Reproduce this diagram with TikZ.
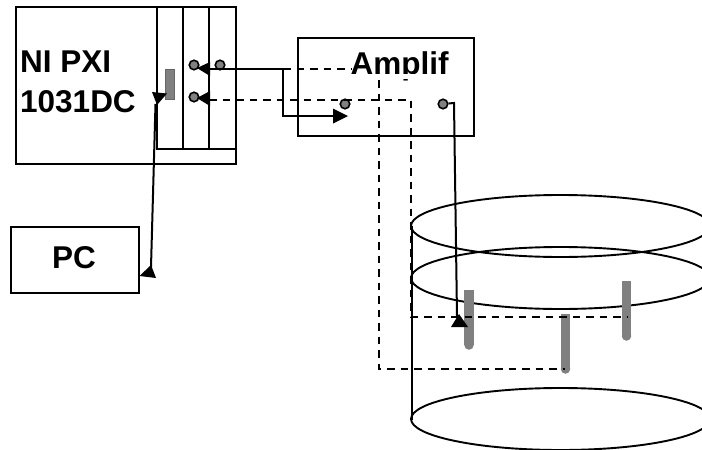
\documentclass[tikz,border=0pt]{standalone}
\usepackage{fontspec}
\setmainfont{Liberation Sans}
\tikzset{
  box/.style={draw=black,line width=2pt,inner sep=0pt,anchor=north west},
  lab/.style={inner sep=0pt,anchor=base west,font=\fontsize{31.5}{31.5}\selectfont\bfseries},
  port/.style={circle,draw=black,fill=gray,line width=1.6pt,minimum size=9.5pt,inner sep=0pt},
  solidw/.style={draw=black,line width=2pt},
  dashw/.style={draw=black,line width=1.8pt,dash pattern=on 7.5pt off 6pt},
  head/.style={fill=black,draw=none},
  probe/.style={draw=gray,line width=9.5pt,line cap=butt},
  tank/.style={draw=black,line width=1.9pt},
}
\begin{document}
\begin{tikzpicture}[x=1pt,y=-1pt]
\useasboundingbox (0,0) rectangle (702,450);
\clip (0,0) rectangle (702,450);
% cylinder
\draw[tank] (560.5,226) ellipse [x radius=149.5,y radius=31];
\draw[tank] (560.5,278) ellipse [x radius=149.5,y radius=31];
\draw[tank] (560.5,419) ellipse [x radius=149.5,y radius=31];
\draw[tank] (412,226) -- (412,420);
% probes
\coordinate (p1t) at (469,290); \coordinate (p1b) at (469,345);
\coordinate (p2t) at (565.5,314); \coordinate (p2b) at (565.5,369);
\coordinate (p3t) at (626.5,281); \coordinate (p3b) at (626.5,336);
\foreach \a/\b in {p1t/p1b,p2t/p2b,p3t/p3b}{
  \draw[probe] (\a) -- (\b);
  \fill[gray] (\b) circle (4.75pt);
}
% instrument
\node[box,minimum width=220pt,minimum height=157pt] (ni) at (15,6) {};
\node[box,minimum width=79pt,minimum height=142pt] (rack) at (156,6) {};
\draw[solidw] (182.5,6) -- (182.5,148);
\draw[solidw] (209,6) -- (209,148);
\node[draw=gray!80!black,fill=gray,line width=1pt,minimum width=9pt,minimum height=30pt,inner sep=0pt,anchor=north west] (slot) at (165,69) {};
\node[lab] (nilabel) at (20,72) {NI PXI};
\node[lab] (nilabelb) at (20,112) {1031DC};
% PC
\node[box,minimum width=128pt,minimum height=66pt] (pc) at (10,226) {};
\node[lab,anchor=base] (pclabel) at (74,268) {PC};
% amplifier
\node[box,minimum width=176pt,minimum height=98pt] (amp) at (297,37) {};
% ports
\node[port] (a) at (194,65) {};
\node[port] (b) at (220,65) {};
\node[port] (c) at (194,97) {};
\node[port] (d) at (345,104) {};
\node[port] (e) at (443,104) {};
% routing points
\coordinate (w1) at (209,69);
\coordinate (w2) at (283,69);
\coordinate (w3) at (283,116);
\coordinate (w4) at (335,116);
\coordinate (d1) at (352,69);
\coordinate (d2) at (379,80);
\coordinate (d3) at (379,369);
\coordinate (d4) at (565,369);
\coordinate (f1) at (209,100);
\coordinate (f2) at (411,100);
\coordinate (f3) at (411,317);
\coordinate (f4) at (627,317);
\coordinate (g1) at (454,103);
\coordinate (g2) at (457,316);
\coordinate (h1) at (155.5,104);
\coordinate (h2) at (151,267);
% solid connectors
\draw[solidw] (w1) -- (w2) -- (w3) -- (w4);
\draw[solidw] (e) -- (g1) -- (g2);
\draw[solidw] (h1) -- (h2);
% dashed connectors
\draw[dashw] (w2) -- (d1);
\draw[dashw] (f1) -- (f2) -- (f3) -- (f4);
\draw[dashw] (d2) -- (d3) -- (d4);
% arrowheads
\fill[head] (197,68) -- (210,62) -- (210,76) -- cycle;
\fill[head] (197,98) -- (210,91) -- (210,106) -- cycle;
\fill[head] (348,116) -- (333,108.5) -- (333,123.5) -- cycle;
\fill[head] (459,314) -- (451,327) -- (468,327) -- cycle;
\fill[head] (152,92) -- (167,93.5) -- (157,105) -- cycle;
\fill[head] (139.5,276) -- (156,278) -- (151,265) -- cycle;
% label of amplifier, its foot masked
\node[lab] (amplabel) at (350.5,74) {Amplif};
\fill[white] (340,74) rectangle (440,79);
\end{tikzpicture}
\end{document}
